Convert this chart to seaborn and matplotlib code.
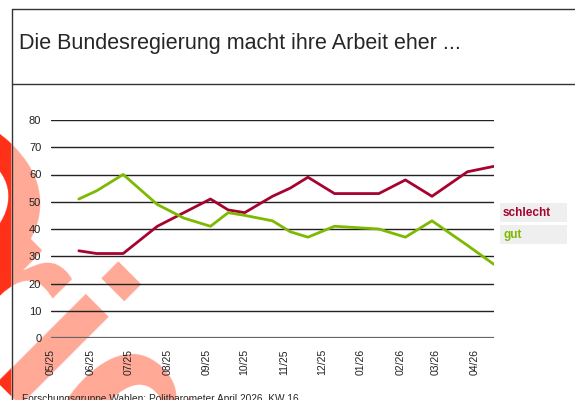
import pandas as pd
import matplotlib
matplotlib.use("Agg")
import matplotlib.pyplot as plt
import matplotlib.dates as mdates
from matplotlib.patches import Rectangle
import seaborn as sns

# --- Daten ---
dates = ["2025-05-23", "2025-06-06", "2025-06-27", "2025-07-24", "2025-08-14",
         "2025-09-04", "2025-09-18", "2025-10-01", "2025-10-23", "2025-11-06",
         "2025-11-20", "2025-12-11", "2026-01-15", "2026-02-05", "2026-02-26",
         "2026-03-26", "2026-04-16"]
schlecht = [32, 31, 31, 41, 46, 51, 47, 46, 52, 55, 59, 53, 53, 58, 52, 61, 63]
gut = [51, 54, 60, 49, 44, 41, 46, 45, 43, 39, 37, 41, 40, 37, 43, 34, 27]
series = ["schlecht", "gut"]
colors = ["#A6032F", "#7DB900"]

title = "Die Bundesregierung macht ihre Arbeit eher ..."
source = "Forschungsgruppe Wahlen: Politbarometer April 2026, KW 16"
watermark = ["O", "riginal"]

df = pd.DataFrame({"datum": pd.to_datetime(dates), "schlecht": schlecht, "gut": gut})
long_df = df.melt(id_vars="datum", var_name="urteil", value_name="prozent")

sns.set_theme(style="white")
plt.rcParams["font.family"] = ["Liberation Sans", "DejaVu Sans"]

fig = plt.figure(figsize=(5.75, 4.0), dpi=100)
ax = fig.add_axes([51 / 575, 1 - 338 / 400, 443 / 575, 218 / 400])
ax.patch.set_visible(False)

sns.lineplot(data=long_df, x="datum", y="prozent", hue="urteil", hue_order=series,
             palette=dict(zip(series, colors)), linewidth=2.0, legend=False, ax=ax,
             zorder=3)

ax.set_ylim(0, 80)
ax.set_yticks(range(0, 81, 10))
ax.set_xlim(pd.Timestamp("2025-05-01"), df["datum"].iloc[-1])
ax.xaxis.set_major_locator(mdates.MonthLocator())
ax.xaxis.set_major_formatter(mdates.DateFormatter("%m/%y"))
for y in range(10, 81, 10):
    ax.axhline(y, color="#222222", lw=1.0, zorder=1)
ax.axhline(0, color="#666666", lw=1.6, zorder=1)
for s in ax.spines.values():
    s.set_visible(False)
ax.tick_params(axis="both", length=0, labelsize=7.5, colors="#222222")
ax.tick_params(axis="y", pad=7, labelsize=8)
ax.tick_params(axis="x", pad=8, labelrotation=90)
ax.set_xlabel("")
ax.set_ylabel("")

# Legende rechts
leg_y = [203, 225]
for name, col, y0 in zip(series, colors, leg_y):
    fig.patches.append(Rectangle((500 / 575, 1 - (y0 + 19) / 400), 67 / 575, 19 / 400,
                                 transform=fig.transFigure, facecolor="#EFEFEF",
                                 edgecolor="none"))
    fig.text(503 / 575, 1 - (y0 + 9.5) / 400, name, color=col, fontsize=8.5,
             fontweight="bold", va="center", ha="left")

# Rahmen und Titel
fig.add_artist(plt.Line2D([12 / 575, 1], [1 - 9 / 400] * 2, color="#333333", lw=1.0))
fig.add_artist(plt.Line2D([12 / 575, 1], [1 - 84 / 400] * 2, color="#333333", lw=1.0))
fig.add_artist(plt.Line2D([12 / 575] * 2, [0, 1 - 9 / 400], color="#333333", lw=1.0))
fig.text(19 / 575, 1 - 43 / 400, title, fontsize=15.5, va="center", ha="left")
fig.text(22 / 575, 1 - 394 / 400, source, fontsize=7.3, va="top", ha="left")

# Wasserzeichen hinter dem Diagramm, links vom Rahmen kräftiger
clip = Rectangle((0, 0), 11 / 575, 1, transform=fig.transFigure)
for part, (px, py) in zip(watermark, [(-172, 204), (-85, 317)]):
    pos = (px / 575, 1 - py / 400)
    fig.text(*pos, part, fontsize=170, fontweight="bold", color="#FFA896",
             rotation=-45, rotation_mode="anchor", ha="left", va="baseline", zorder=-2)
    edge = fig.text(*pos, part, fontsize=170, fontweight="bold", color="#FF3018",
                    rotation=-45, rotation_mode="anchor", ha="left", va="baseline",
                    zorder=-1)
    edge.set_clip_path(clip)

fig.savefig("out.png", dpi=100)
